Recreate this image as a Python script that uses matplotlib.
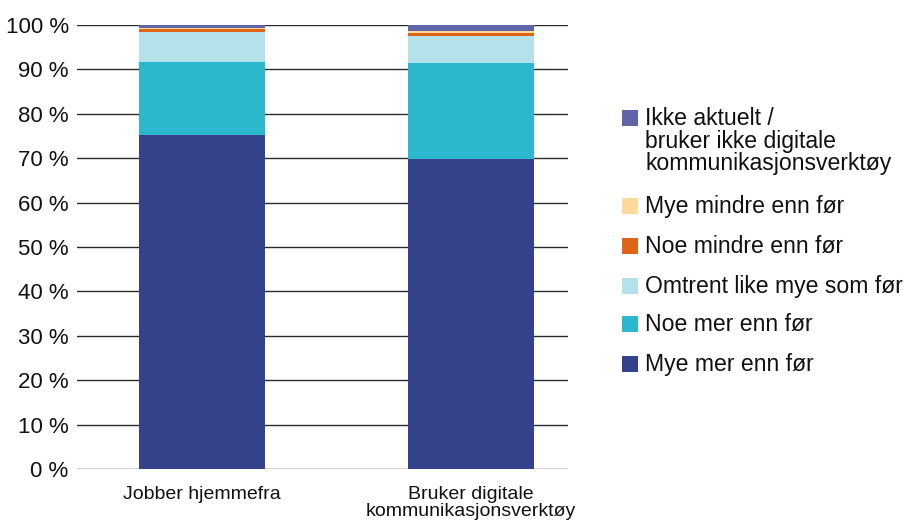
import matplotlib
matplotlib.use("Agg")
import matplotlib.pyplot as plt
from matplotlib.patches import Rectangle
import numpy as np

plt.rcParams['font.family'] = ['Liberation Sans', 'DejaVu Sans']

categories = ["Jobber hjemmefra", "Bruker digitale\nkommunikasjonsverktøy"]
series_names = ["Mye mer enn før", "Noe mer enn før", "Omtrent like mye som før",
                "Noe mindre enn før", "Mye mindre enn før",
                "Ikke aktuelt /\nbruker ikke digitale\nkommunikasjonsverktøy"]
mye_mer = [75.2, 69.8]
noe_mer = [16.4, 21.7]
omtrent = [6.9, 6.0]
noe_mindre = [0.5, 0.7]
mye_mindre = [0.4, 0.4]
ikke_aktuelt = [0.6, 1.4]
series_values = [mye_mer, noe_mer, omtrent, noe_mindre, mye_mindre, ikke_aktuelt]
colors = ["#33428a", "#2bb8cf", "#b5e1ea", "#e06418", "#fdd99b", "#6065a8"]
ytick_labels = [f"{v} %" for v in range(0, 101, 10)]

W, H = 921, 526
fig = plt.figure(figsize=(W / 100, H / 100), dpi=100)
ax = fig.add_axes([77 / W, 1 - 469 / H, (568 - 77) / W, (469 - 25) / H])

x = np.arange(len(categories))
bottom = np.zeros(len(categories))
for vals, col, name in zip(series_values, colors, series_names):
    ax.bar(x, vals, width=0.47, bottom=bottom, color=col, label=name,
           edgecolor='none', zorder=3)
    bottom += np.array(vals)

ax.set_xlim(-0.465, 1.36)
ax.set_ylim(0, 100)
ax.set_yticks(range(0, 101, 10))
ax.set_yticklabels(ytick_labels, fontsize=16, color='#111111')
ax.set_xticks(x)
ax.set_xticklabels(categories, fontsize=14, color='#111111', linespacing=1.02)
ax.tick_params(axis='both', length=0)
ax.tick_params(axis='y', pad=6)
ax.tick_params(axis='x', pad=12)
ax.yaxis.grid(True, color='#2a2a2a', linewidth=1.0, zorder=0)
for s in ax.spines.values():
    s.set_visible(False)

# Legend (manual, reversed order)
legend_y = [118, 206, 246, 286, 324, 364]
for name, col, yc in zip(series_names[::-1], colors[::-1], legend_y):
    fig.patches.append(Rectangle((622 / W, 1 - (yc + 8) / H), 16 / W, 16 / H,
                                 transform=fig.transFigure, facecolor=col,
                                 edgecolor='none'))
    fig.text(645 / W, 1 - (yc - 11) / H, name, fontsize=16.6, color='#111111',
             ha='left', va='top', linespacing=0.98)

fig.savefig("out.png", dpi=100)
